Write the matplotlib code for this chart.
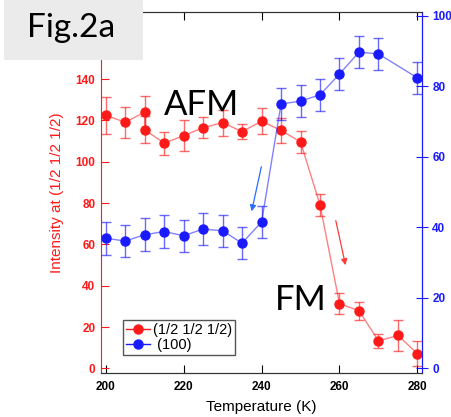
import matplotlib
matplotlib.use('Agg')
import matplotlib.pyplot as plt
from matplotlib.patches import Rectangle
from matplotlib.lines import Line2D

plt.rcParams['font.family'] = ['Liberation Sans', 'DejaVu Sans']

# (1/2 1/2 1/2) peak, left axis
t_half = [200, 205, 210, 210, 215, 220, 225, 230, 235, 240, 245, 250, 255, 260, 265, 270, 275, 280]
i_half = [122.5, 119.1, 124.0, 115.5, 109.0, 112.6, 116.5, 118.9, 114.6, 119.6, 115.2, 109.6, 79.1, 31.3, 27.9, 13.3, 15.9, 7.1]
e_half = [9.0, 7.4, 8.0, 6.5, 5.6, 7.6, 5.0, 6.2, 3.7, 6.3, 6.0, 5.4, 5.3, 5.2, 4.3, 3.3, 7.5, 6.0]

# (100) peak, right axis
t_100 = [200, 205, 210, 215, 220, 225, 230, 235, 240, 245, 250, 255, 260, 265, 270, 280]
i_100 = [36.9, 36.1, 37.9, 38.8, 37.6, 39.5, 39.0, 35.5, 41.5, 75.0, 75.8, 77.6, 83.5, 89.7, 89.2, 82.4]
e_100 = [4.7, 4.6, 4.6, 4.6, 4.6, 4.5, 4.6, 4.6, 4.6, 4.5, 4.5, 4.6, 4.5, 4.5, 4.5, 4.5]

red = '#ff1a1a'
blue = '#1a1aff'

fig = plt.figure(figsize=(4.52, 4.17), dpi=100)
ax = fig.add_axes([0.2235, 0.1063, 0.7095, 0.865])
ax2 = ax.twinx()

ax.errorbar(t_half, i_half, yerr=e_half, fmt='none', ecolor=red, alpha=0.65,
            elinewidth=1, capsize=3.5, capthick=1)
ax.plot(t_half, i_half, '-', color=red, alpha=0.55, lw=1)
ax.plot(t_half, i_half, 'o', color=red, ms=6.5)
ax2.errorbar(t_100, i_100, yerr=e_100, fmt='none', ecolor=blue, alpha=0.65,
             elinewidth=1, capsize=3.5, capthick=1)
ax2.plot(t_100, i_100, '-', color=blue, alpha=0.55, lw=1)
ax2.plot(t_100, i_100, 'o', color=blue, ms=6.5)

ax.set_xlim(198.8, 281.1)
ax.set_ylim(-2.1, 172.5)
ax2.set_ylim(-1.25, 101.1)
ax.set_xticks([200, 220, 240, 260, 280])
ax.set_yticks([0, 20, 40, 60, 80, 100, 120, 140])
ax2.set_yticks([0, 20, 40, 60, 80, 100])

ax.tick_params(axis='x', direction='in', top=True, length=6, width=0.8,
               colors='black', labelsize=8.5, pad=6)
ax.tick_params(axis='y', direction='in', length=6, width=0.8,
               colors=red, labelsize=8.5, pad=4)
ax2.tick_params(axis='y', direction='inout', length=9, width=0.8,
                colors=blue, labelsize=8.5, pad=3)
for lab in ax.get_xticklabels() + ax.get_yticklabels() + ax2.get_yticklabels():
    lab.set_fontweight('bold')

ax.spines['left'].set_color(red)
ax2.spines['left'].set_visible(False)
ax2.spines['right'].set_color(blue)
for s in ['top', 'bottom']:
    ax.spines[s].set_color('#333333')
    ax2.spines[s].set_color('#333333')

ax.set_xlabel('Temperature (K)', fontsize=11, labelpad=5)
ax.set_ylabel('Intensity at (1/2 1/2 1/2)', fontsize=11, color=red, labelpad=8)

ax.text(215.0, 122.7, 'AFM', fontsize=25, family='Lato', va='baseline', ha='left', zorder=5)
ax.text(243.5, 28.2, 'FM', fontsize=25, family='Lato', va='baseline', ha='left', zorder=5)

ax.annotate('', xy=(237.3, 74.7), xytext=(240.1, 98.9),
            arrowprops=dict(arrowstyle='-|>', color='#2a6cff', lw=0.9, mutation_scale=9))
ax.annotate('', xy=(261.7, 48.6), xytext=(258.9, 72.8),
            arrowprops=dict(arrowstyle='-|>', color='#ff3a3a', lw=0.9, mutation_scale=9))

h1 = Line2D([], [], color=red, marker='o', ms=6.5, lw=1)
h2 = Line2D([], [], color=blue, marker='o', ms=6.5, lw=1)
leg = ax2.legend([h1, h2], ['(1/2 1/2 1/2)', ' (100)'], loc='lower left',
                 bbox_to_anchor=(0.07, 0.049), borderaxespad=0, fontsize=10.5,
                 handlelength=1.6, handletextpad=0.2, labelspacing=0.1,
                 borderpad=0.2, fancybox=False, shadow=False, framealpha=1)
leg.get_frame().set_edgecolor('#555555')
leg.get_frame().set_linewidth(1)

fig.patches.append(Rectangle((4 / 452, 1 - 60 / 417), 139 / 452, 60 / 417,
                             transform=fig.transFigure, facecolor='#ebebeb',
                             edgecolor='none', zorder=10))
fig.text(27 / 452, 1 - 37 / 417, 'Fig.2a', fontsize=24, family='Lato',
         va='baseline', ha='left', zorder=11)

fig.savefig('out.png', dpi=100)
